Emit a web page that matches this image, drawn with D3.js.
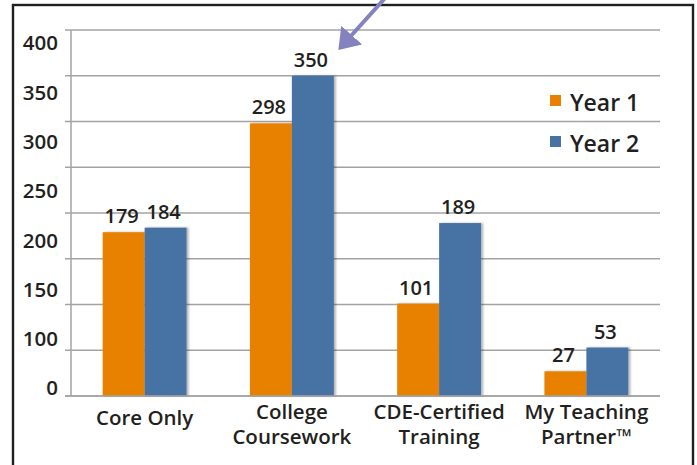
<!DOCTYPE html>
<html>
<head>
<meta charset="utf-8">
<script src="https://cdn.jsdelivr.net/npm/d3@7"></script>
<style>
  body { margin: 0; background: #fff; }
  svg { display: block; font-family: "Open Sans", Lato, sans-serif; }
</style>
</head>
<body>
<svg id="chart" width="697" height="465"></svg>
<script>
const categories = ["Core Only", "College Coursework", "CDE-Certified Training", "My Teaching Partner™"];
const categoryLines = [["Core Only"], ["College", "Coursework"], ["CDE-Certified", "Training"], ["My Teaching", "Partner™"]];
const seriesNames = ["Year 1", "Year 2"];
const year1 = [179, 298, 101, 27];
const year2 = [184, 350, 189, 53];
const gridTicks = [0, 50, 100, 150, 200, 250, 300, 350, 400];
// labels as printed on the original axis (note: no "50")
const yLabels = ["400", "350", "300", "250", "200", "150", "100", "0"];

const colors = { "Year 1": "#e88004", "Year 2": "#4673a4" };
const margin = { top: 30, left: 71, right: 37, bottom: 69 };
const width = 697, height = 465;

const svg = d3.select("#chart");

const defs = svg.append("defs");
const shadow = defs.append("filter").attr("id", "shadow")
  .attr("x", "-10%").attr("y", "-10%").attr("width", "130%").attr("height", "120%");
shadow.append("feDropShadow")
  .attr("dx", 2).attr("dy", 0).attr("stdDeviation", 1.3)
  .attr("flood-color", "#000").attr("flood-opacity", 0.3);

const marker = defs.append("marker").attr("id", "arrowhead")
  .attr("viewBox", "0 0 10 14").attr("refX", 8).attr("refY", 7)
  .attr("markerWidth", 5).attr("markerHeight", 7)
  .attr("markerUnits", "strokeWidth").attr("orient", "auto");
marker.append("path").attr("d", "M0,0 L10,7 L0,14 z").attr("fill", "#8483bf");

const y = d3.scaleLinear().domain([0, 400]).range([396, 30]);
const x = d3.scaleBand().domain(categories)
  .range([margin.left, width - margin.right])
  .paddingInner(0.43).paddingOuter(0.215);
const xInner = d3.scaleBand().domain(seriesNames).range([0, x.bandwidth()]);
// positions of the printed tick labels
const yLabelPos = d3.scalePoint().domain(yLabels).range([43, 388]);

// frame
svg.append("rect")
  .attr("x", 13).attr("y", 5).attr("width", 680).attr("height", 480)
  .attr("fill", "none").attr("stroke", "#231f20").attr("stroke-width", 2.4);

// grid
svg.append("g").selectAll("line").data(gridTicks).join("line")
  .attr("x1", 65).attr("x2", width - margin.right)
  .attr("y1", d => y(d)).attr("y2", d => y(d))
  .attr("stroke", "#a3a3a3").attr("stroke-width", 1.5);

svg.append("line")
  .attr("x1", margin.left).attr("x2", margin.left)
  .attr("y1", y(400)).attr("y2", y(0))
  .attr("stroke", "#a3a3a3").attr("stroke-width", 1.5);

// y labels
svg.append("g").selectAll("text").data(yLabels).join("text")
  .attr("x", 58).attr("y", d => yLabelPos(d))
  .attr("dy", "0.36em").attr("text-anchor", "end")
  .attr("font-size", 20.5).attr("font-weight", 600).attr("fill", "#231f20")
  .text(d => d);

// bars
const rows = categories.map((c, i) => ({ cat: c, vals: [
  { key: "Year 1", value: year1[i] },
  { key: "Year 2", value: year2[i] }
] }));

const groups = svg.append("g").selectAll("g").data(rows).join("g")
  .attr("transform", d => `translate(${x(d.cat)},0)`);

groups.selectAll("rect").data(d => d.vals).join("rect")
  .attr("x", d => xInner(d.key))
  .attr("y", d => y(d.value))
  .attr("width", xInner.bandwidth())
  .attr("height", d => y(0) - y(d.value))
  .attr("fill", d => colors[d.key])
  .attr("filter", "url(#shadow)");

groups.selectAll("text.val").data(d => d.vals).join("text")
  .attr("class", "val")
  .attr("x", d => xInner(d.key) + xInner.bandwidth() / 2 - 2)
  .attr("y", d => y(d.value) - 9)
  .attr("text-anchor", "middle")
  .attr("font-size", 20).attr("font-weight", 600).attr("fill", "#231f20")
  .text(d => d.value);

// baseline redrawn over bars
svg.append("line")
  .attr("x1", 65).attr("x2", width - margin.right)
  .attr("y1", y(0)).attr("y2", y(0))
  .attr("stroke", "#a3a3a3").attr("stroke-width", 1.5);

// x labels, one text per line
const xLabelData = [];
categories.forEach((c, i) => {
  const lines = categoryLines[i];
  lines.forEach((t, j) => xLabelData.push({ cat: c, text: t, line: j, multi: lines.length > 1 }));
});
svg.append("g").selectAll("text").data(xLabelData).join("text")
  .attr("x", d => x(d.cat) + x.bandwidth() / 2)
  .attr("y", d => (d.multi ? 419 : 425) + d.line * 24.5)
  .attr("text-anchor", "middle")
  .attr("font-size", 20.5).attr("font-weight", 600).attr("fill", "#231f20")
  .text(d => d.text);

// legend
const legend = svg.append("g").selectAll("g").data(seriesNames).join("g")
  .attr("transform", (d, i) => `translate(550,${100 + i * 41})`);
legend.append("rect")
  .attr("x", 0).attr("y", -5).attr("width", 11).attr("height", 11)
  .attr("fill", d => colors[d]);
legend.append("text")
  .attr("x", 20).attr("y", 3).attr("dy", "0.36em")
  .attr("font-size", 23).attr("font-weight", 600).attr("fill", "#231f20")
  .text(d => d);

// annotation arrow
svg.append("line")
  .attr("x1", 386).attr("y1", -3).attr("x2", 341).attr("y2", 47)
  .attr("stroke", "#8483bf").attr("stroke-width", 4)
  .attr("marker-end", "url(#arrowhead)");
</script>
</body>
</html>
